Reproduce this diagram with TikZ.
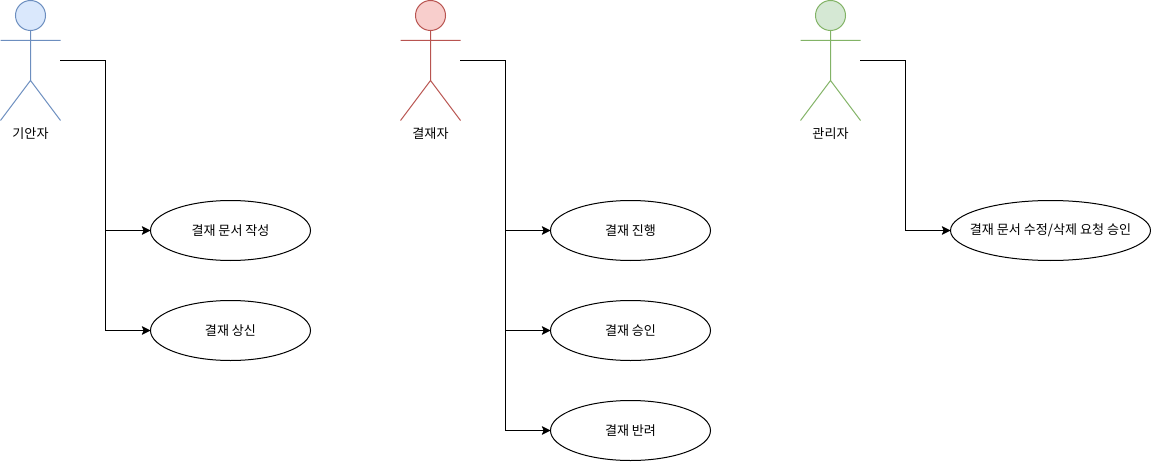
\documentclass[tikz,border=0pt]{standalone}
\usepackage{fontspec}
\newfontfamily\krfont{Noto Sans CJK KR}
\usetikzlibrary{shapes.geometric,arrows.meta}
\definecolor{bluefill}{HTML}{DAE8FC}\definecolor{blueline}{HTML}{6C8EBF}
\definecolor{redfill}{HTML}{F8CECC}\definecolor{redline}{HTML}{B85450}
\definecolor{greenfill}{HTML}{D5E8D4}\definecolor{greenline}{HTML}{82B366}
\tikzset{
  usecase/.style={draw=black,line width=0.75pt,fill=white,ellipse,minimum width=120pt,minimum height=45pt,inner xsep=-8pt,inner ysep=0pt,outer sep=0pt,font=\krfont\fontsize{9.8}{11}\selectfont},
  widecase/.style={usecase,minimum width=150pt},
  actorlabel/.style={inner sep=0pt,font=\krfont\fontsize{9.8}{11}\selectfont},
  head/.style={circle,minimum size=22.5pt,inner sep=0pt,outer sep=0pt,line width=0.75pt},
  limb/.style={line width=0.75pt},
  wire/.style={draw=black,line width=0.75pt,-{Stealth[length=6.5pt,width=6.5pt,inset=1.3pt]}}
}
\newcommand{\drawactor}[4]{%
  \node[head,draw=#3,fill=#4] (#1head) at (#2+30.5,445.5) {};
  \coordinate (#1hip) at (#2+30.5,380.5);
  \coordinate (#1larm) at (#2+0.5,420.5);
  \coordinate (#1rarm) at (#2+60.5,420.5);
  \coordinate (#1lfoot) at (#2+0.5,340.5);
  \coordinate (#1rfoot) at (#2+60.5,340.5);
  \coordinate (#1port) at (#2+60,400.5);
  \draw[limb,draw=#3] (#1head.south) -- (#1hip) (#1larm) -- (#1rarm)
     (#1lfoot) -- (#1hip) -- (#1rfoot);
}
\begin{document}
\begin{tikzpicture}[x=0.75pt,y=0.75pt]
\useasboundingbox (0,0) rectangle (1151,461);
\drawactor{a}{0}{blueline}{bluefill}
\drawactor{b}{400}{redline}{redfill}
\drawactor{c}{800}{greenline}{greenfill}
\node[actorlabel] (la) at (30.5,327.5) {기안자};
\node[actorlabel] (lb) at (430.5,327.5) {결재자};
\node[actorlabel] (lc) at (830.5,327.5) {관리자};
\node[usecase] (a1) at (230.5,230.5) {결재 문서 작성};
\node[usecase] (a2) at (230.5,130.5) {결재 상신};
\node[usecase] (b1) at (630.5,230.5) {결재 진행};
\node[usecase] (b2) at (630.5,130.5) {결재 승인};
\node[usecase] (b3) at (630.5,30.5) {결재 반려};
\node[widecase] (c1) at (1050.5,230.5) {결재 문서 수정/삭제 요청 승인};
\draw[wire] (aport) -- ++(45.5,0) |- (a1.west);
\draw[wire] (aport) -- ++(45.5,0) |- (a2.west);
\draw[wire] (bport) -- ++(45.5,0) |- (b1.west);
\draw[wire] (bport) -- ++(45.5,0) |- (b2.west);
\draw[wire] (bport) -- ++(45.5,0) |- (b3.west);
\draw[wire] (cport) -- ++(45.5,0) |- (c1.west);
\end{tikzpicture}
\end{document}
